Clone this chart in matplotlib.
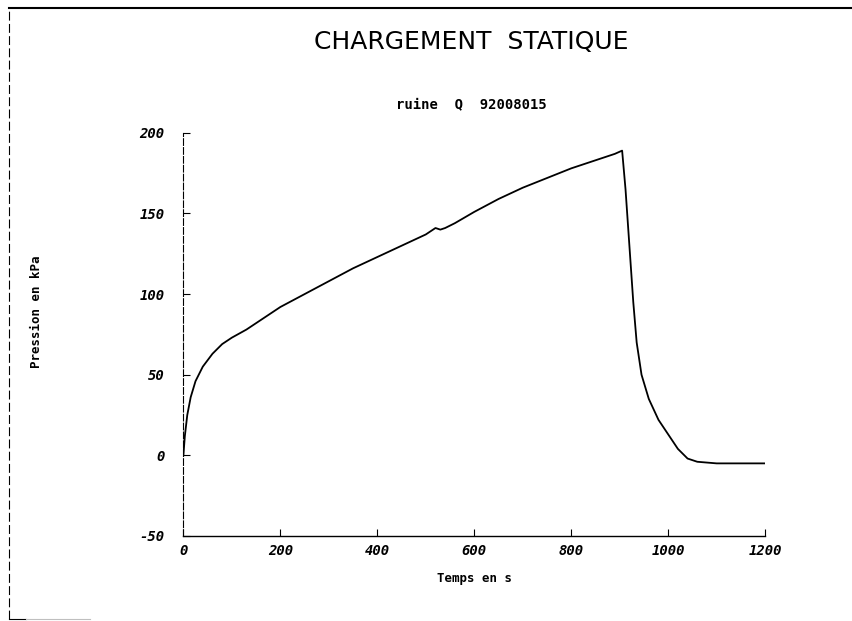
import matplotlib
matplotlib.use("Agg")
import matplotlib.pyplot as plt
from matplotlib.lines import Line2D

# Static loading test: pressure vs time
temps = [0, 3, 8, 15, 25, 40, 60, 80, 100, 130, 160, 200, 250, 300, 350, 400,
         450, 500, 510, 520, 530, 540, 560, 600, 650, 700, 750, 800, 850, 890,
         905, 912, 920, 928, 935, 945, 960, 980, 1000, 1020, 1040, 1060, 1100,
         1150, 1200]
pression = [0, 12, 25, 36, 46, 55, 63, 69, 73, 78, 84, 92, 100, 108, 116, 123,
            130, 137, 139, 141, 140, 141, 144, 151, 159, 166, 172, 178, 183, 187,
            189, 165, 130, 95, 70, 50, 35, 22, 13, 4, -2, -4, -5, -5, -5]

xticks = [0, 200, 400, 600, 800, 1000, 1200]
yticks = [-50, 0, 50, 100, 150, 200]

fig = plt.figure(figsize=(8.53, 6.21), dpi=100)
ax = fig.add_axes([0.215, 0.137, 0.682, 0.649])

ax.plot(temps, pression, color="black", lw=1.3)

ax.set_xlim(0, 1200)
ax.set_ylim(-50, 200)
ax.set_xticks(xticks)
ax.set_yticks(yticks)
tick_font = dict(family="DejaVu Sans Mono", weight="bold", style="italic", size=10)
ax.set_xticklabels([str(v) for v in xticks], **tick_font)
ax.set_yticklabels([str(v) for v in yticks], **tick_font)
ax.tick_params(direction="in", length=5, width=0.8)
ax.tick_params(axis="x", pad=6)
ax.tick_params(axis="y", pad=13.5)

for side in ("top", "right"):
    ax.spines[side].set_visible(False)
ax.spines["left"].set_linestyle((0, (6, 2)))
ax.spines["left"].set_linewidth(0.8)
ax.spines["bottom"].set_linewidth(1.0)

ax.set_xlabel("Temps en s", family="DejaVu Sans Mono", weight="bold", size=9, labelpad=10)
fig.text(0.043, 0.498, "Pression en kPa", rotation=90, ha="center", va="center",
         family="DejaVu Sans Mono", weight="bold", size=9)

fig.text(0.553, 0.933, "CHARGEMENT  STATIQUE", ha="center", va="center",
         family="DejaVu Sans", size=18)
fig.text(0.553, 0.832, "ruine  Q  92008015", ha="center", va="center",
         family="DejaVu Sans Mono", weight="bold", size=10)

# page frame
fig.add_artist(Line2D([0.010, 1.0], [0.987, 0.987], transform=fig.transFigure,
                      color="black", lw=1.5))
fig.add_artist(Line2D([0.010, 0.010], [0.004, 0.987], transform=fig.transFigure,
                      color="black", lw=0.8, linestyle=(0, (8, 3))))
fig.add_artist(Line2D([0.010, 0.030], [0.004, 0.004], transform=fig.transFigure,
                      color="black", lw=0.8))
fig.add_artist(Line2D([0.030, 0.105], [0.004, 0.004], transform=fig.transFigure,
                      color="0.75", lw=0.8))

fig.savefig("out.png", dpi=100)
